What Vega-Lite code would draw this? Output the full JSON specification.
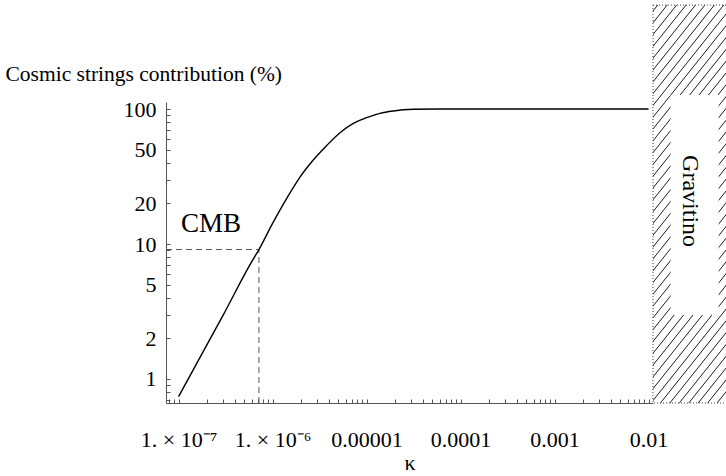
{
  "$schema": "https://vega.github.io/schema/vega-lite/v6.json",
  "width": 487,
  "height": 301,
  "autosize": {"type": "none"},
  "padding": {"left": 166, "top": 102, "right": 73, "bottom": 73},
  "background": "white",
  "config": {"view": {"stroke": null}, "font": "Liberation Serif"},
  "layer": [
    {
      "data": {"values": [{"region": "Gravitino", "kmin": 0.01114, "kmax": 0.07, "pmin": 0.664, "pmax": 589}]},
      "mark": {
        "type": "rect",
        "stroke": "#444",
        "strokeDash": [1, 2],
        "strokeWidth": 1,
        "fill": {
          "gradient": "linear",
          "x1": 0, "y1": 0, "x2": 0.2762, "y2": 1.1708,
          "stops": [
            {"offset":0.0095,"color":"#fff"},{"offset":0.0117,"color":"#333"},{"offset":0.0123,"color":"#333"},{"offset":0.0145,"color":"#fff"},
            {"offset":0.0335,"color":"#fff"},{"offset":0.0357,"color":"#333"},{"offset":0.0363,"color":"#333"},{"offset":0.0385,"color":"#fff"},
            {"offset":0.0575,"color":"#fff"},{"offset":0.0597,"color":"#333"},{"offset":0.0603,"color":"#333"},{"offset":0.0625,"color":"#fff"},
            {"offset":0.0815,"color":"#fff"},{"offset":0.0837,"color":"#333"},{"offset":0.0843,"color":"#333"},{"offset":0.0865,"color":"#fff"},
            {"offset":0.1055,"color":"#fff"},{"offset":0.1077,"color":"#333"},{"offset":0.1083,"color":"#333"},{"offset":0.1105,"color":"#fff"},
            {"offset":0.1295,"color":"#fff"},{"offset":0.1317,"color":"#333"},{"offset":0.1323,"color":"#333"},{"offset":0.1345,"color":"#fff"},
            {"offset":0.1535,"color":"#fff"},{"offset":0.1557,"color":"#333"},{"offset":0.1563,"color":"#333"},{"offset":0.1585,"color":"#fff"},
            {"offset":0.1775,"color":"#fff"},{"offset":0.1797,"color":"#333"},{"offset":0.1803,"color":"#333"},{"offset":0.1825,"color":"#fff"},
            {"offset":0.2015,"color":"#fff"},{"offset":0.2037,"color":"#333"},{"offset":0.2043,"color":"#333"},{"offset":0.2065,"color":"#fff"},
            {"offset":0.2255,"color":"#fff"},{"offset":0.2277,"color":"#333"},{"offset":0.2283,"color":"#333"},{"offset":0.2305,"color":"#fff"},
            {"offset":0.2495,"color":"#fff"},{"offset":0.2517,"color":"#333"},{"offset":0.2523,"color":"#333"},{"offset":0.2545,"color":"#fff"},
            {"offset":0.2735,"color":"#fff"},{"offset":0.2757,"color":"#333"},{"offset":0.2763,"color":"#333"},{"offset":0.2785,"color":"#fff"},
            {"offset":0.2975,"color":"#fff"},{"offset":0.2997,"color":"#333"},{"offset":0.3003,"color":"#333"},{"offset":0.3025,"color":"#fff"},
            {"offset":0.3215,"color":"#fff"},{"offset":0.3237,"color":"#333"},{"offset":0.3243,"color":"#333"},{"offset":0.3265,"color":"#fff"},
            {"offset":0.3455,"color":"#fff"},{"offset":0.3477,"color":"#333"},{"offset":0.3483,"color":"#333"},{"offset":0.3505,"color":"#fff"},
            {"offset":0.3695,"color":"#fff"},{"offset":0.3717,"color":"#333"},{"offset":0.3723,"color":"#333"},{"offset":0.3745,"color":"#fff"},
            {"offset":0.3935,"color":"#fff"},{"offset":0.3957,"color":"#333"},{"offset":0.3963,"color":"#333"},{"offset":0.3985,"color":"#fff"},
            {"offset":0.4175,"color":"#fff"},{"offset":0.4197,"color":"#333"},{"offset":0.4203,"color":"#333"},{"offset":0.4225,"color":"#fff"},
            {"offset":0.4415,"color":"#fff"},{"offset":0.4437,"color":"#333"},{"offset":0.4443,"color":"#333"},{"offset":0.4465,"color":"#fff"},
            {"offset":0.4655,"color":"#fff"},{"offset":0.4677,"color":"#333"},{"offset":0.4683,"color":"#333"},{"offset":0.4705,"color":"#fff"},
            {"offset":0.4895,"color":"#fff"},{"offset":0.4917,"color":"#333"},{"offset":0.4923,"color":"#333"},{"offset":0.4945,"color":"#fff"},
            {"offset":0.5135,"color":"#fff"},{"offset":0.5157,"color":"#333"},{"offset":0.5163,"color":"#333"},{"offset":0.5185,"color":"#fff"},
            {"offset":0.5375,"color":"#fff"},{"offset":0.5397,"color":"#333"},{"offset":0.5403,"color":"#333"},{"offset":0.5425,"color":"#fff"},
            {"offset":0.5615,"color":"#fff"},{"offset":0.5637,"color":"#333"},{"offset":0.5643,"color":"#333"},{"offset":0.5665,"color":"#fff"},
            {"offset":0.5855,"color":"#fff"},{"offset":0.5877,"color":"#333"},{"offset":0.5883,"color":"#333"},{"offset":0.5905,"color":"#fff"},
            {"offset":0.6095,"color":"#fff"},{"offset":0.6117,"color":"#333"},{"offset":0.6123,"color":"#333"},{"offset":0.6145,"color":"#fff"},
            {"offset":0.6335,"color":"#fff"},{"offset":0.6357,"color":"#333"},{"offset":0.6363,"color":"#333"},{"offset":0.6385,"color":"#fff"},
            {"offset":0.6575,"color":"#fff"},{"offset":0.6597,"color":"#333"},{"offset":0.6603,"color":"#333"},{"offset":0.6625,"color":"#fff"},
            {"offset":0.6815,"color":"#fff"},{"offset":0.6837,"color":"#333"},{"offset":0.6843,"color":"#333"},{"offset":0.6865,"color":"#fff"},
            {"offset":0.7055,"color":"#fff"},{"offset":0.7077,"color":"#333"},{"offset":0.7083,"color":"#333"},{"offset":0.7105,"color":"#fff"},
            {"offset":0.7295,"color":"#fff"},{"offset":0.7317,"color":"#333"},{"offset":0.7323,"color":"#333"},{"offset":0.7345,"color":"#fff"},
            {"offset":0.7535,"color":"#fff"},{"offset":0.7557,"color":"#333"},{"offset":0.7563,"color":"#333"},{"offset":0.7585,"color":"#fff"},
            {"offset":0.7775,"color":"#fff"},{"offset":0.7797,"color":"#333"},{"offset":0.7803,"color":"#333"},{"offset":0.7825,"color":"#fff"},
            {"offset":0.8015,"color":"#fff"},{"offset":0.8037,"color":"#333"},{"offset":0.8043,"color":"#333"},{"offset":0.8065,"color":"#fff"},
            {"offset":0.8255,"color":"#fff"},{"offset":0.8277,"color":"#333"},{"offset":0.8283,"color":"#333"},{"offset":0.8305,"color":"#fff"},
            {"offset":0.8495,"color":"#fff"},{"offset":0.8517,"color":"#333"},{"offset":0.8523,"color":"#333"},{"offset":0.8545,"color":"#fff"},
            {"offset":0.8735,"color":"#fff"},{"offset":0.8757,"color":"#333"},{"offset":0.8763,"color":"#333"},{"offset":0.8785,"color":"#fff"},
            {"offset":0.8975,"color":"#fff"},{"offset":0.8997,"color":"#333"},{"offset":0.9003,"color":"#333"},{"offset":0.9025,"color":"#fff"},
            {"offset":0.9215,"color":"#fff"},{"offset":0.9237,"color":"#333"},{"offset":0.9243,"color":"#333"},{"offset":0.9265,"color":"#fff"},
            {"offset":0.9455,"color":"#fff"},{"offset":0.9477,"color":"#333"},{"offset":0.9483,"color":"#333"},{"offset":0.9505,"color":"#fff"},
            {"offset":0.9695,"color":"#fff"},{"offset":0.9717,"color":"#333"},{"offset":0.9723,"color":"#333"},{"offset":0.9745,"color":"#fff"},
            {"offset":0.9935,"color":"#fff"},{"offset":0.9957,"color":"#333"},{"offset":0.9963,"color":"#333"},{"offset":0.9985,"color":"#fff"}
          ]
        }
      },
      "encoding": {
        "x": {"field": "kmin", "type": "quantitative", "scale": {"type": "log"}},
        "x2": {"field": "kmax"},
        "y": {"field": "pmin", "type": "quantitative", "scale": {"type": "log"}},
        "y2": {"field": "pmax"}
      }
    },
    {
      "data": {"values": [{"region": "Gravitino", "k0": 0.01714, "k1": 0.0556, "p0": 2.98, "p1": 127, "kc": 0.02757, "pc": 20.8}]},
      "layer": [
        {
          "mark": {"type": "rect", "fill": "white", "strokeWidth": 0},
          "encoding": {
            "x": {"field": "k0", "type": "quantitative", "scale": {"type": "log"}},
            "x2": {"field": "k1"},
            "y": {"field": "p0", "type": "quantitative", "scale": {"type": "log"}},
            "y2": {"field": "p1"}
          }
        },
        {
          "mark": {"type": "text", "angle": 90, "align": "center", "baseline": "middle", "font": "Liberation Serif", "fontSize": 24, "color": "black"},
          "encoding": {
            "x": {"field": "kc", "type": "quantitative", "scale": {"type": "log"}},
            "y": {"field": "pc", "type": "quantitative", "scale": {"type": "log"}},
            "text": {"field": "region"}
          }
        }
      ]
    },
    {
      "data": {"values": [{"label": "CMB", "kappa": 7.16e-7, "pct": 9.1, "kmin": 7.35e-8, "pmin": 0.664, "klab": 1.06e-7, "plab": 12.3}]},
      "layer": [
        {
          "mark": {"type": "rule", "color": "#555", "strokeDash": [6, 4], "strokeWidth": 1},
          "encoding": {
            "x": {"field": "kmin", "type": "quantitative", "scale": {"type": "log"}},
            "x2": {"field": "kappa"},
            "y": {"field": "pct", "type": "quantitative", "scale": {"type": "log"}},
            "y2": {"field": "pct"}
          }
        },
        {
          "mark": {"type": "rule", "color": "#555", "strokeDash": [6, 4], "strokeWidth": 1},
          "encoding": {
            "x": {"field": "kappa", "type": "quantitative", "scale": {"type": "log"}},
            "x2": {"field": "kappa"},
            "y": {"field": "pmin", "type": "quantitative", "scale": {"type": "log"}},
            "y2": {"field": "pct"}
          }
        },
        {
          "mark": {"type": "text", "align": "left", "baseline": "alphabetic", "font": "Liberation Serif", "fontSize": 27, "color": "black"},
          "encoding": {
            "x": {"field": "klab", "type": "quantitative", "scale": {"type": "log"}},
            "y": {"field": "plab", "type": "quantitative", "scale": {"type": "log"}},
            "text": {"field": "label"}
          }
        }
      ]
    },
    {
      "data": {
        "values": [
          {"kappa": 1.0e-7, "pct": 0.74},
          {"kappa": 3.0e-7, "pct": 3.0},
          {"kappa": 6.0e-7, "pct": 7.4},
          {"kappa": 7.16e-7, "pct": 9.1},
          {"kappa": 1.02e-6, "pct": 14.6},
          {"kappa": 1.41e-6, "pct": 21.7},
          {"kappa": 1.95e-6, "pct": 31.2},
          {"kappa": 2.71e-6, "pct": 41.9},
          {"kappa": 3.77e-6, "pct": 53.7},
          {"kappa": 5.21e-6, "pct": 66.8},
          {"kappa": 7.23e-6, "pct": 78.4},
          {"kappa": 1.0e-5, "pct": 86.2},
          {"kappa": 1.39e-5, "pct": 92.9},
          {"kappa": 1.92e-5, "pct": 96.7},
          {"kappa": 3.14e-5, "pct": 99.5},
          {"kappa": 6.0e-5, "pct": 100},
          {"kappa": 1.0e-4, "pct": 100},
          {"kappa": 1.0e-3, "pct": 100},
          {"kappa": 1.0e-2, "pct": 100}
        ]
      },
      "mark": {"type": "line", "color": "black", "strokeWidth": 1.4, "interpolate": "monotone"},
      "encoding": {
        "x": {
          "field": "kappa",
          "type": "quantitative",
          "scale": {"type": "log", "domain": [7.35e-8, 0.01114], "nice": false},
          "axis": {
            "values": [8e-8, 9e-8, 1e-7, 2e-7, 3e-7, 4e-7, 5e-7, 6e-7, 7e-7, 8e-7, 9e-7, 1e-6, 2e-6, 3e-6, 4e-6, 5e-6, 6e-6, 7e-6, 8e-6, 9e-6, 1e-5, 2e-5, 3e-5, 4e-5, 5e-5, 6e-5, 7e-5, 8e-5, 9e-5, 1e-4, 2e-4, 3e-4, 4e-4, 5e-4, 6e-4, 7e-4, 8e-4, 9e-4, 1e-3, 2e-3, 3e-3, 4e-3, 5e-3, 6e-3, 7e-3, 8e-3, 9e-3, 1e-2],
            "labelExpr": "datum.value === 1e-7 ? '1. × 10⁻⁷' : datum.value === 1e-6 ? '1. × 10⁻⁶' : datum.value === 1e-5 ? '0.00001' : datum.value === 1e-4 ? '0.0001' : datum.value === 1e-3 ? '0.001' : datum.value === 1e-2 ? '0.01' : ''",
            "title": "κ",
            "titleFont": "Liberation Serif",
            "titleFontSize": 22,
            "titleFontWeight": "normal",
            "titleColor": "black",
            "titleY": 66,
            "titleBaseline": "alphabetic",
            "labelFont": "Liberation Serif",
            "labelFontSize": 22,
            "labelColor": "black",
            "labelBaseline": "alphabetic",
            "labelPadding": 47,
            "labelOverlap": false,
            "labelFlush": false,
            "labelBound": false,
            "tickSize": -4,
            "tickColor": "#555",
            "tickWidth": 1,
            "domainColor": "#555",
            "domainWidth": 1,
            "grid": false
          }
        },
        "y": {
          "field": "pct",
          "type": "quantitative",
          "scale": {"type": "log", "domain": [0.664, 112.7], "nice": false},
          "axis": {
            "values": [0.7, 0.8, 0.9, 1, 2, 3, 4, 5, 6, 7, 8, 9, 10, 20, 30, 40, 50, 60, 70, 80, 90, 100],
            "labelExpr": "indexof([1, 2, 5, 10, 20, 50, 100], datum.value) >= 0 ? format(datum.value, 'd') : ''",
            "title": "Cosmic strings contribution (%)",
            "titleFont": "Liberation Serif",
            "titleFontSize": 21.5,
            "titleFontWeight": "normal",
            "titleColor": "black",
            "titleAngle": 0,
            "titleAlign": "left",
            "titleBaseline": "alphabetic",
            "titleX": -161,
            "titleY": -22,
            "labelFont": "Liberation Serif",
            "labelFontSize": 22,
            "labelColor": "black",
            "labelPadding": 14,
            "labelOverlap": false,
            "labelFlush": false,
            "labelBound": false,
            "tickSize": -4,
            "tickColor": "#555",
            "tickWidth": 1,
            "domainColor": "#555",
            "domainWidth": 1,
            "grid": false
          }
        }
      }
    }
  ]
}
